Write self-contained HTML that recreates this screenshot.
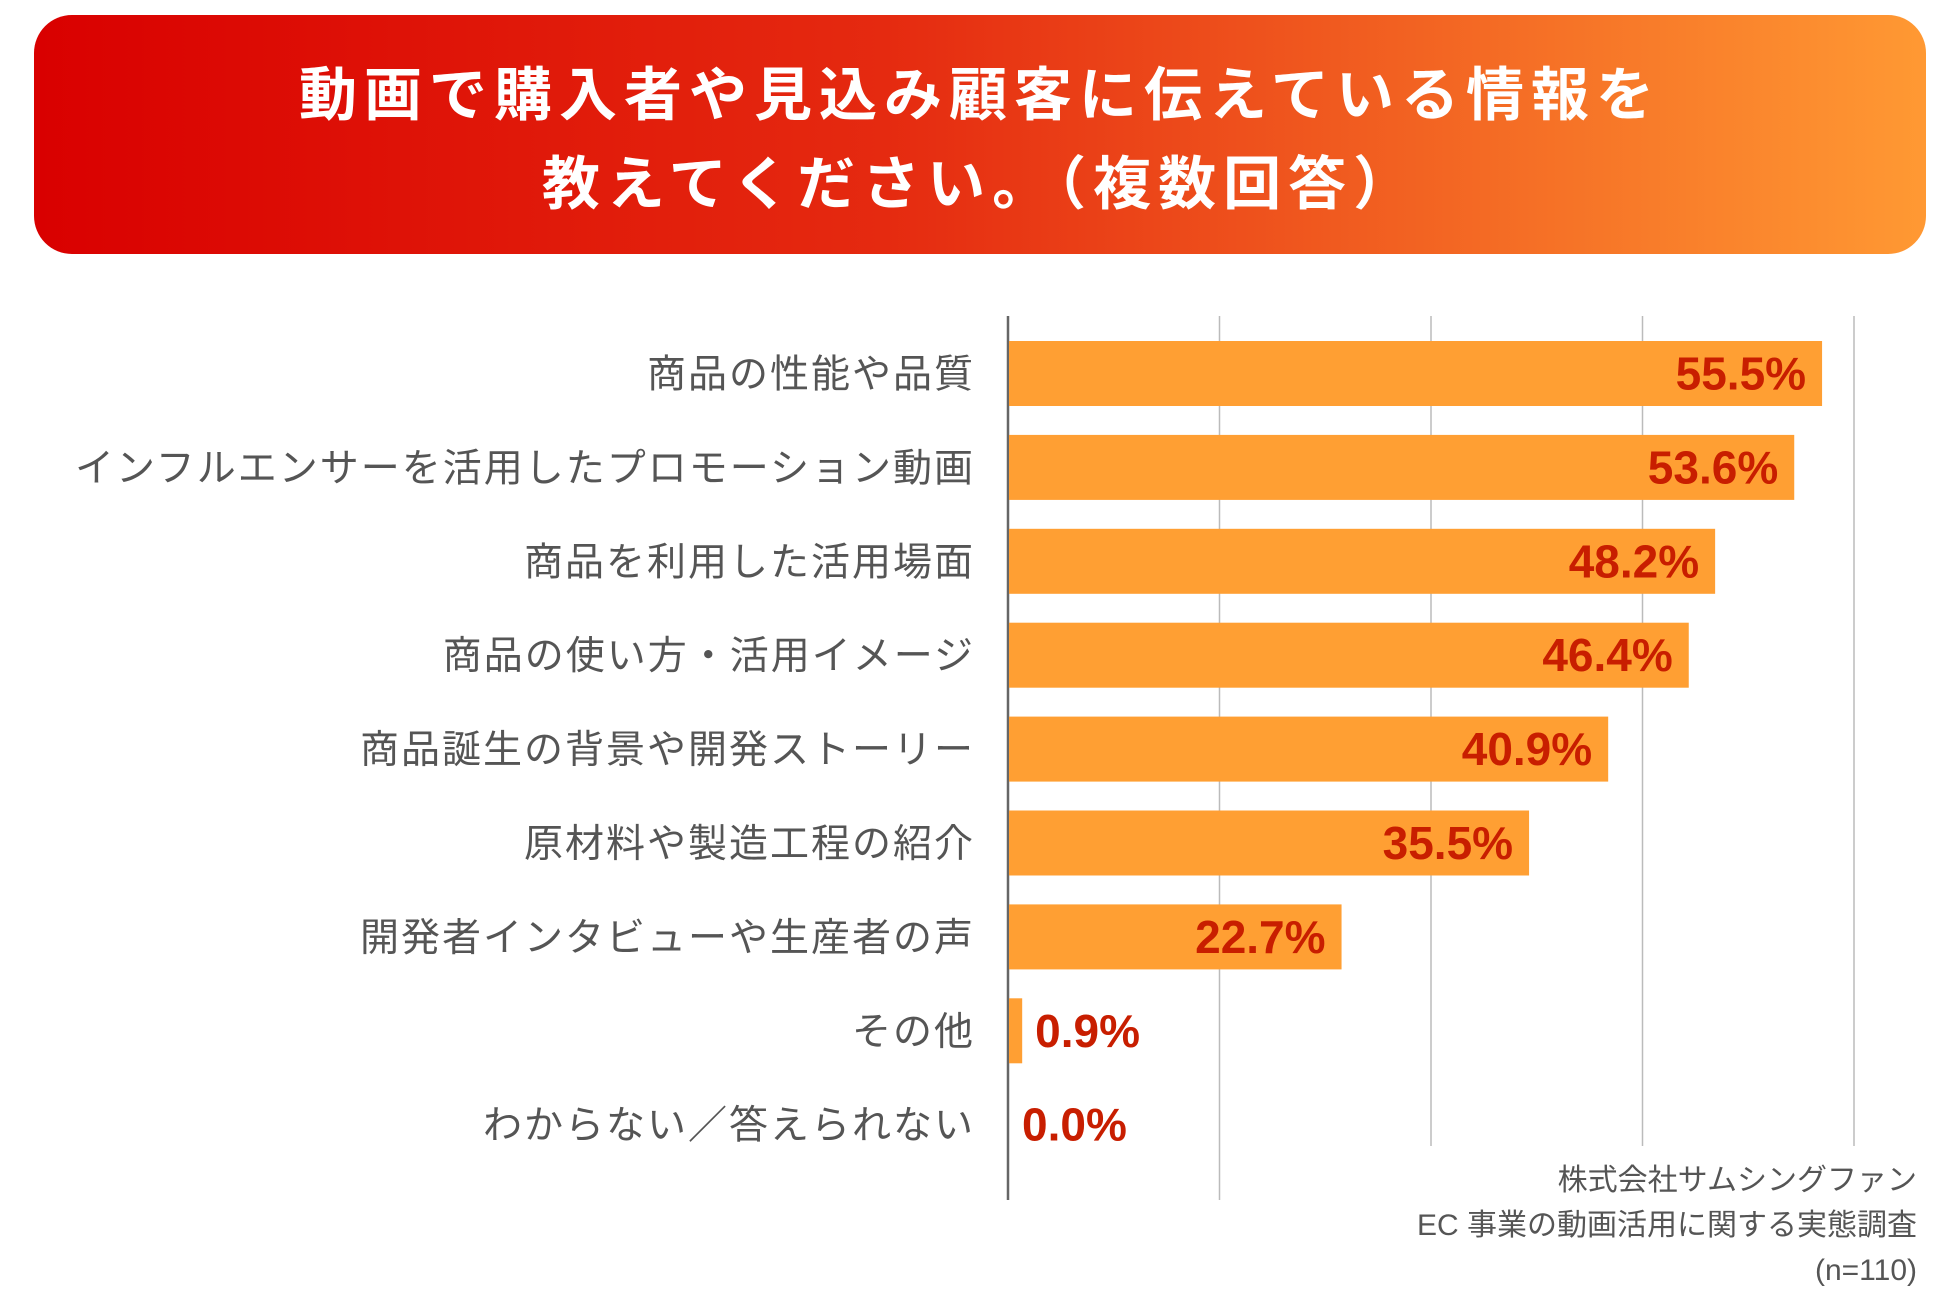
<!DOCTYPE html>
<html><head><meta charset="utf-8">
<style>
body{margin:0;width:1950px;height:1300px;background:#fff;overflow:hidden;font-family:"Liberation Sans","Noto Sans CJK JP",sans-serif;}
#hdr{position:absolute;left:34px;top:15px;width:1892px;height:239px;border-radius:38px;background:linear-gradient(90deg,#d90000 0%,#e52a10 45%,#ff9933 100%);}
.t{position:absolute;left:0;width:100%;text-align:center;color:#fff;font-weight:bold;font-size:58px;letter-spacing:7px;}
#src{position:absolute;right:33px;top:1158px;text-align:right;color:#555;font-size:30px;line-height:45px;}
</style></head>
<body>
<div id="hdr">
<div class="t" style="top:33px">動画で購入者や見込み顧客に伝えている情報を</div>
<div class="t" style="top:122px">教えてください。（複数回答）</div>
</div>
<svg id="chart" width="1950" height="1300" style="position:absolute;left:0;top:0"></svg>
<div id="src">株式会社サムシングファン<br>EC 事業の動画活用に関する実態調査<br>(n=110)</div>
<script>
const categories=["商品の性能や品質","インフルエンサーを活用したプロモーション動画","商品を利用した活用場面","商品の使い方・活用イメージ","商品誕生の背景や開発ストーリー","原材料や製造工程の紹介","開発者インタビューや生産者の声","その他","わからない／答えられない"];
const values=[55.5,53.6,48.2,46.4,40.9,35.5,22.7,0.9,0.0];
const labels=["55.5%","53.6%","48.2%","46.4%","40.9%","35.5%","22.7%","0.9%","0.0%"];
const gridTicks=[0,1,2,3,4];
const NS="http://www.w3.org/2000/svg";
const svg=document.getElementById('chart');
const x0=1008,k=14.65,top0=341,pitch=93.9,bh=65;
const xs=v=>x0+v*k;
const ys=i=>top0+i*pitch;
function mk(t,a){const e=document.createElementNS(NS,t);for(const n in a)e.setAttribute(n,a[n]);svg.appendChild(e);return e;}
gridTicks.forEach(g=>{
 const gx=x0+g*211.5;
 const l=mk('line',{x1:gx,x2:gx,y1:316,y2:(g<=1?1200:1146),stroke:g===0?'#666':'#bbb','stroke-width':g===0?2.5:1.5});
 
 
});
categories.forEach((c,i)=>{
 const y=ys(i);
 const w=xs(values[i])-x0;
 const r=mk('rect',{x:x0+1,y:y,width:Math.max(w,0),height:bh,fill:'#ff9f33'});
 
 
 const t=mk('text',{x:975,y:y+bh/2+14,'text-anchor':'end','font-size':39,fill:'#555','letter-spacing':2});
 t.textContent=c;
 
 
 const inside=w>150;
 const v=mk('text',{x:inside?xs(values[i])-15:xs(values[i])+14,y:y+bh/2+16,'text-anchor':inside?'end':'start','font-size':46,'font-weight':'bold',fill:'#c81e00'});
 v.textContent=labels[i];
 
 
});
</script>
</body></html>
